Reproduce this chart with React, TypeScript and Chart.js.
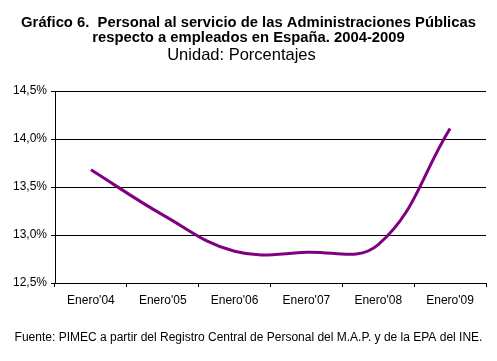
import React, { useEffect, useRef } from "react";
import { Chart, registerables } from "chart.js";

Chart.register(...registerables);

const titleLines = [
  "Gráfico 6.  Personal al servicio de las Administraciones Públicas",
  "respecto a empleados en España. 2004-2009",
];
const subtitle = "Unidad: Porcentajes";
const footer = "Fuente: PIMEC a partir del Registro Central de Personal del M.A.P. y de la EPA del INE.";

const categories = ["Enero'04", "Enero'05", "Enero'06", "Enero'07", "Enero'08", "Enero'09"];
const values = [13.68, 13.21, 12.83, 12.82, 12.9, 14.11];

const yMin = 12.5;
const yMax = 14.5;
const yStep = 0.5;

const FONT = "'Liberation Sans', Arial, sans-serif";

const textPlugin = {
  id: "texts",
  afterDraw(chart: any) {
    const ctx = chart.ctx;
    const w = chart.width;
    ctx.save();
    ctx.fillStyle = "#000";
    ctx.textAlign = "center";
    ctx.textBaseline = "alphabetic";
    ctx.font = `bold 14.8px ${FONT}`;
    ctx.fillText(titleLines[0], w / 2, 26.5);
    ctx.fillText(titleLines[1], w / 2, 42);
    ctx.font = `16.5px ${FONT}`;
    ctx.fillText(subtitle, w / 2 - 7, 60);
    ctx.font = `12px ${FONT}`;
    ctx.fillText(footer, w / 2, 341);
    ctx.restore();
  },
};

export default function App() {
  const ref = useRef<HTMLCanvasElement | null>(null);
  useEffect(() => {
    if (!ref.current) return;
    const chart = new Chart(ref.current, {
      type: "line",
      data: {
        labels: categories,
        datasets: [
          {
            data: values,
            borderColor: "#800080",
            borderWidth: 3,
            pointRadius: 0,
            tension: 0.4,
            fill: false,
          },
        ],
      },
      options: {
        animation: false,
        responsive: false,
        devicePixelRatio: 1,
        layout: { padding: { top: 91, right: 11, left: 0, bottom: 0 } },
        plugins: {
          legend: { display: false },
          title: { display: false },
          tooltip: { enabled: false },
        },
        scales: {
          x: {
            type: "category",
            offset: true,
            grid: {
              offset: true,
              drawOnChartArea: false,
              drawTicks: true,
              tickLength: 4,
              color: "#000",
            },
            border: { color: "#000", width: 1 },
            ticks: {
              color: "#000",
              padding: 6,
              maxRotation: 0,
              font: { family: FONT, size: 12 },
            },
            afterFit: (s: any) => {
              s.height = 78;
            },
          },
          y: {
            min: yMin,
            max: yMax,
            grid: { color: "#000", tickLength: 4, lineWidth: 1 },
            border: { color: "#000", width: 1 },
            ticks: {
              stepSize: yStep,
              color: "#000",
              padding: 4,
              font: { family: FONT, size: 12 },
              callback: (v: any) => Number(v).toFixed(1).replace(".", ",") + "%",
            },
            afterFit: (s: any) => {
              s.width = 55;
            },
          },
        },
      },
      plugins: [textPlugin],
    });
    return () => chart.destroy();
  }, []);
  return (
    <div style={{ position: "absolute", left: 0, top: 0, width: 497, height: 361, background: "#fff" }}>
      <canvas ref={ref} width={497} height={361} style={{ width: 497, height: 361, display: "block" }} />
    </div>
  );
}
